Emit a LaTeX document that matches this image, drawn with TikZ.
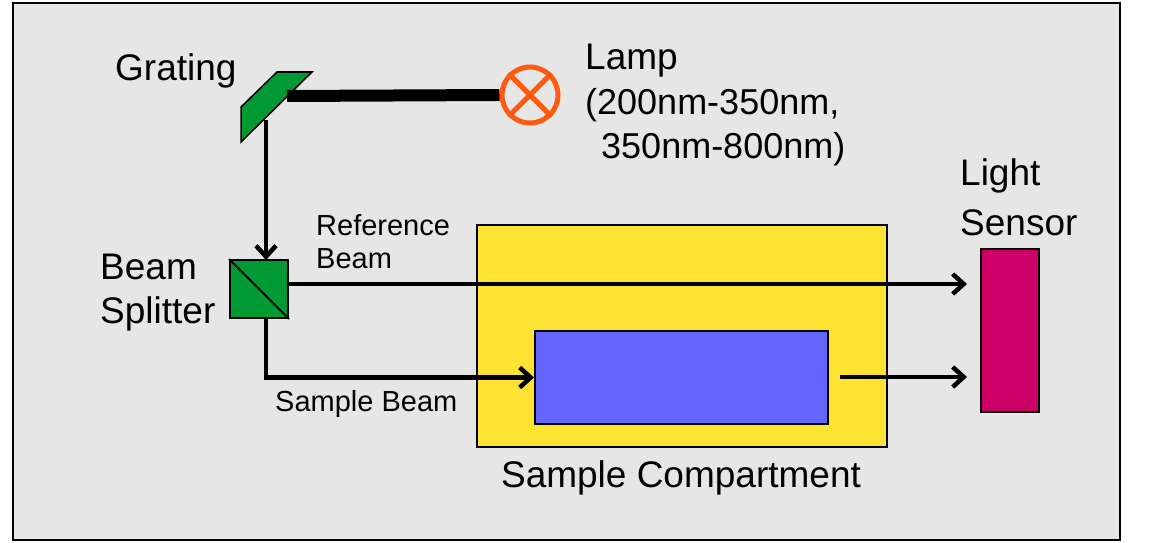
\documentclass[tikz,border=0pt]{standalone}
\usepackage{fontspec}
\setmainfont{Liberation Sans}
\usetikzlibrary{positioning, arrows.meta}
\definecolor{bggrey}{HTML}{E6E6E6}
\definecolor{optgreen}{HTML}{009933}
\definecolor{lampor}{HTML}{FF5A0F}
\definecolor{cellyel}{HTML}{FFE332}
\definecolor{cellblue}{HTML}{6666FF}
\definecolor{sensred}{HTML}{CC0066}

\begin{document}
\begin{tikzpicture}[
    x=1pt, y=-1pt,
    beam/.style={line width=4.5pt, -{Straight Barb[length=11pt,width=20pt,line width=4.5pt]}},
    biglabel/.style={font=\fontsize{37}{44}\selectfont, align=left, inner sep=0pt},
    smalllabel/.style={font=\fontsize{29}{33}\selectfont, align=left, inner sep=0pt},
    part/.style={draw=black, line width=2pt}
]
\useasboundingbox (0,0) rectangle (1156,543);
\fill[bggrey, draw=black, line width=1.5pt] (13,3) rectangle (1120,540);

% Sample compartment and cell
\node[part, fill=cellyel, minimum width=410pt, minimum height=222pt, anchor=north west] (comp) at (476,224) {};
\node[part, fill=cellblue, minimum width=293pt, minimum height=93pt, anchor=north west] (cell) at (534,330) {};
\node[biglabel] (complabel) at (681,478) {Sample Compartment};

% Light sensor
\node[part, fill=sensred, minimum width=58pt, minimum height=163pt, anchor=north west] (sensor) at (980,248) {};
\node[biglabel, font=\fontsize{37}{50}\selectfont, anchor=north west] (senslabel) at (960,158) {Light\\Sensor};

% Lamp
\node[circle, draw=lampor, line width=5pt, minimum size=56pt] (lamp) at (530,95) {};
\draw[lampor, line width=5pt] (lamp.north west) -- (lamp.south east)
    (lamp.north east) -- (lamp.south west);
\node[biglabel, anchor=north west] (lamplabel) at (585,44) {Lamp};
\node[biglabel, font=\fontsize{36}{44}\selectfont, anchor=north west] (lamprange) at (585,88) {(200nm-350nm,\\\ \,350nm-800nm)};

% Grating
\fill[optgreen, draw=black, line width=1.5pt] (241,142) -- (241,107) -- (277,72) -- (312,72) -- cycle;
\coordinate (grat) at (287,96);
\coordinate (gratout) at (266,120);
\node[biglabel, anchor=north west] (gratlabel) at (115,53) {Grating};

% Beam splitter
\node[part, fill=optgreen, minimum size=58pt, inner sep=0pt] (split) at (259,289) {};
\draw[line width=2pt] (split.north west) -- (split.south east);
\node[biglabel, anchor=north west] (splitlabel) at (100,254) {Beam\\Splitter};

% Beams
\draw[line width=12pt] (lamp.west) -- (grat);
\draw[beam] (gratout) -- (266,260);
\coordinate (refend) at (967,284);
\draw[beam] (split.east |- refend) -- (refend);
\draw[beam] (266,318) |- (cell.west);
\coordinate (cellout) at (840,377);
\coordinate (sensin) at (967,377);
\draw[beam] (cellout) -- (sensin);
\node[smalllabel, anchor=north west] (reflabel) at (316,214) {Reference\\Beam};
\node[smalllabel, anchor=north west] (samplabel) at (275,390) {Sample Beam};
\end{tikzpicture}
\end{document}
